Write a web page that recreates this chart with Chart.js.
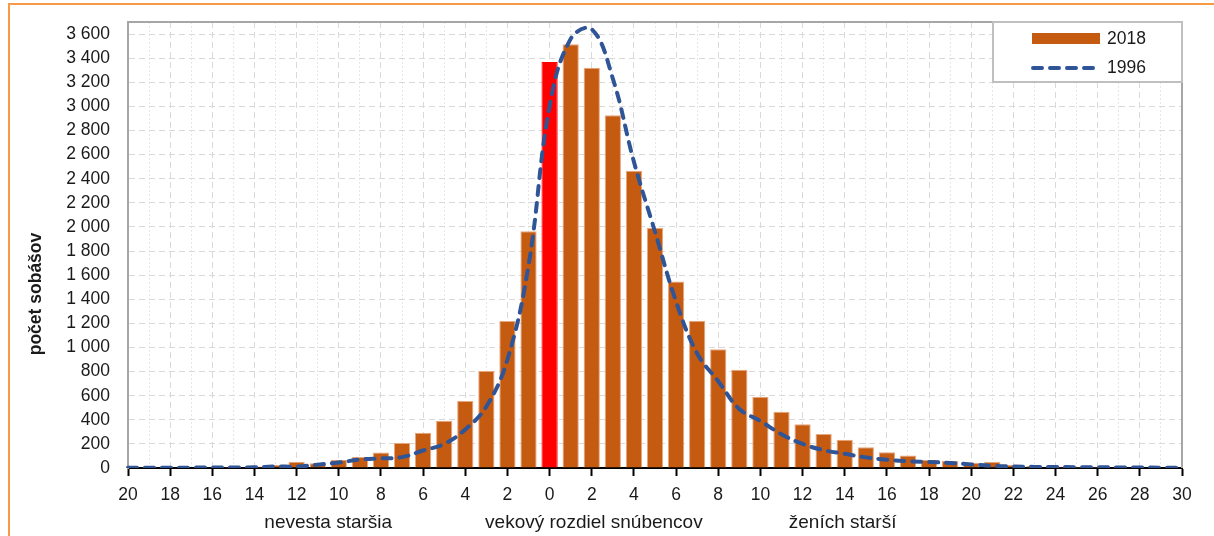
<!DOCTYPE html>
<html>
<head>
<meta charset="utf-8">
<title>Vekový rozdiel snúbencov</title>
<script src="https://cdn.jsdelivr.net/npm/chart.js@4.4.1/dist/chart.umd.min.js"></script>
<style>
body { margin: 0; background: #fff; }
#frame { position: absolute; left: 8px; top: 3px; right: 0; bottom: 0; border-left: 2px solid #F79A45; border-top: 2px solid #F79A45; }
#box { position: relative; width: 1214px; height: 536px; }
</style>
</head>
<body>
<div id="frame"></div>
<div id="box"><canvas id="myChart"></canvas></div>
<script>
'use strict';
// vekovy rozdiel (zenich - nevesta), zaporne = nevesta starsia
let diffs = [-20, -19, -18, -17, -16, -15, -14, -13, -12, -11, -10, -9, -8, -7, -6, -5, -4, -3, -2, -1,
  0, 1, 2, 3, 4, 5, 6, 7, 8, 9, 10, 11, 12, 13, 14, 15, 16, 17, 18, 19, 20,
  21, 22, 23, 24, 25, 26, 27, 28, 29, 30];
let marriages2018 = [3, 3, 4, 5, 6, 8, 12, 25, 52, 40, 68, 92, 128, 208, 292, 392, 555, 805, 1220, 1965,
  3368, 3516, 3320, 2927, 2465, 1990, 1548, 1222, 986, 815, 592, 466, 362, 282, 234, 173, 131, 103, 67, 58, 44,
  50, 26, 18, 13, 10, 8, 7, 5, 4, 3];
let marriages1996 = [3, 3, 3, 3, 4, 4, 6, 12, 12, 28, 45, 70, 80, 90, 145, 200, 320, 510, 900, 1680,
  3000, 3560, 3640, 3230, 2540, 1960, 1380, 950, 720, 490, 390, 280, 200, 148, 118, 88, 68, 56, 50, 42, 30,
  18, 12, 9, 8, 7, 6, 5, 4, 3, 2];
let yTicks = [0, 200, 400, 600, 800, 1000, 1200, 1400, 1600, 1800, 2000, 2200, 2400, 2600, 2800, 3000, 3200, 3400, 3600];
let seriesNames = ['2018', '1996'];
let axisNotes = ['nevesta staršia', 'vekový rozdiel snúbencov', 'ženích starší'];
let yTitle = 'počet sobášov';

let fontName = "'Liberation Sans', Arial, sans-serif";
let textColor = '#1a1a1a';
let barColor = '#C55A11';
let lineColor = '#2F5597';

function formatNum(v) {
  if (v < 1000) return String(v);
  return Math.floor(v / 1000) + ' ' + String(v % 1000).padStart(3, '0');
}

let extras = {
  id: 'extras',
  afterDraw(chart) {
    let ctx = chart.ctx;
    let area = chart.chartArea;
    let x = chart.scales.x;
    ctx.save();

    // ram plochy grafu hore a vpravo
    ctx.strokeStyle = '#A6A6A6';
    ctx.lineWidth = 2;
    ctx.beginPath();
    ctx.moveTo(area.left, area.top);
    ctx.lineTo(area.right, area.top);
    ctx.lineTo(area.right, area.bottom);
    ctx.stroke();

    // legenda
    let lx = area.right - 189;
    let ly = area.top;
    ctx.fillStyle = '#fff';
    ctx.fillRect(lx, ly, 189, 60);
    ctx.strokeStyle = '#BFBFBF';
    ctx.lineWidth = 2;
    ctx.strokeRect(lx, ly, 189, 60);
    ctx.fillStyle = barColor;
    ctx.fillRect(lx + 39, ly + 11, 68, 11);
    ctx.strokeStyle = lineColor;
    ctx.lineWidth = 4;
    ctx.lineCap = 'round';
    ctx.setLineDash([9, 8]);
    ctx.beginPath();
    ctx.moveTo(lx + 40, ly + 46);
    ctx.lineTo(lx + 108, ly + 46);
    ctx.stroke();
    ctx.setLineDash([]);
    ctx.fillStyle = textColor;
    ctx.font = '17.5px ' + fontName;
    ctx.textAlign = 'left';
    ctx.textBaseline = 'middle';
    ctx.fillText(seriesNames[0], lx + 114, ly + 17);
    ctx.fillText(seriesNames[1], lx + 114, ly + 46);

    // popisy pod osou x
    let notePos = [-10.5, 2.1, 13.9];
    ctx.font = '19px ' + fontName;
    ctx.textAlign = 'center';
    ctx.textBaseline = 'alphabetic';
    for (let i = 0; i < axisNotes.length; i++) {
      let px = x.getPixelForValue(notePos[i] - diffs[0]);
      ctx.fillText(axisNotes[i], px, 528);
    }

    // nazov osi y
    ctx.font = 'bold 17.5px ' + fontName;
    ctx.translate(36, 294);
    ctx.rotate(-Math.PI / 2);
    ctx.textBaseline = 'middle';
    ctx.fillText(yTitle, 0, 0);
    ctx.restore();
  }
};

let ctx = document.getElementById('myChart').getContext('2d');
let chart = new Chart(ctx, {
  type: 'bar',
  data: {
    labels: diffs,
    datasets: [{
      type: 'line',
      label: seriesNames[1],
      data: marriages1996,
      borderColor: lineColor,
      borderWidth: 4,
      borderDash: [9, 8],
      borderCapStyle: 'round',
      tension: 0.4,
      pointRadius: 0,
      fill: false,
      order: 1
    }, {
      type: 'bar',
      label: seriesNames[0],
      data: marriages2018,
      backgroundColor: c => diffs[c.dataIndex] === 0 ? '#FF0000' : barColor,
      borderColor: c => diffs[c.dataIndex] === 0 ? '#FF0000' : '#E8A67C',
      borderWidth: 1,
      barPercentage: 0.77,
      categoryPercentage: 1,
      order: 2
    }]
  },
  options: {
    responsive: true,
    maintainAspectRatio: false,
    animation: false,
    layout: { padding: { top: 22, right: 32, left: 0, bottom: 0 } },
    plugins: {
      legend: { display: false },
      tooltip: { enabled: true }
    },
    scales: {
      x: {
        type: 'category',
        offset: false,
        grid: {
          offset: false,
          lineWidth: 1,
          tickLength: 8,
          tickWidth: 2,
          color: c => (c.index === 0 ? 'rgba(0,0,0,0)' : (c.index % 2 === 0 ? '#D9D9D9' : '#E6E6E6')),
          tickColor: c => (c.index % 2 === 0 ? '#000' : 'rgba(0,0,0,0)')
        },
        border: {
          color: '#000',
          width: 2,
          dash: c => (c.type === 'tick' ? (c.index % 2 === 0 ? [6, 4] : [2, 2]) : [])
        },
        ticks: {
          autoSkip: false,
          maxRotation: 0,
          padding: 9,
          color: textColor,
          font: { family: fontName, size: 17.5 },
          callback: function (value, index) {
            let d = diffs[index];
            return d % 2 === 0 ? String(Math.abs(d)) : '';
          }
        },
        afterFit(scale) {
          scale.height = 68;
          scale.paddingLeft = 0;
          scale.paddingRight = 0;
        }
      },
      y: {
        min: 0,
        max: 3700,
        afterBuildTicks(scale) { scale.ticks = yTicks.map(v => ({ value: v })); },
        grid: {
          drawTicks: false,
          lineWidth: 1,
          color: c => (c.tick && c.tick.value === 0 ? 'rgba(0,0,0,0)' : '#D9D9D9')
        },
        border: {
          color: '#A6A6A6',
          width: 2,
          dash: c => (c.type === 'tick' ? [6, 4] : [])
        },
        ticks: {
          autoSkip: false,
          padding: 18,
          color: textColor,
          font: { family: fontName, size: 17.5 },
          callback: v => formatNum(v)
        },
        afterFit(scale) {
          scale.width = 128;
          scale.paddingTop = 0;
          scale.paddingBottom = 0;
        }
      }
    }
  },
  plugins: [extras]
});
</script>
</body>
</html>
